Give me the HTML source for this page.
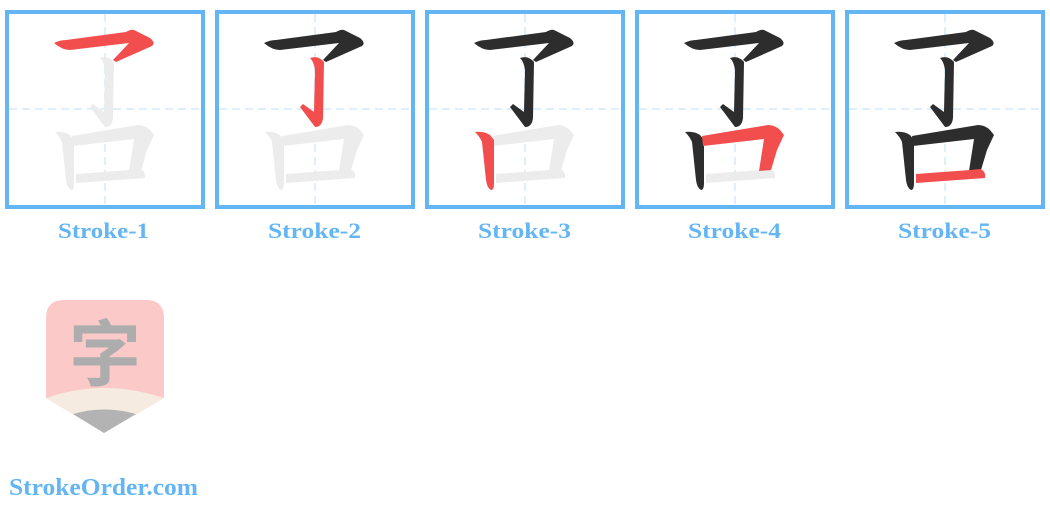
<!DOCTYPE html>
<html><head><meta charset="utf-8"><style>
body{margin:0;background:#fff;width:1050px;height:514px;overflow:hidden}
svg{display:block}
</style></head><body>
<svg width="1050" height="514" viewBox="0 0 1050 514" xmlns="http://www.w3.org/2000/svg">
<defs>
<g id="grid">
<rect x="7" y="12" width="196" height="195" fill="#fff" stroke="#64b5f4" stroke-width="4"/>
<line x1="105" y1="14" x2="105" y2="205" stroke="#dff0fc" stroke-width="2" stroke-dasharray="8,5"/>
<line x1="9" y1="109" x2="201" y2="109" stroke="#dff0fc" stroke-width="2" stroke-dasharray="8,5"/>
</g>
<path id="s1" d="M54,43 Q60,40 66,40 L126,32 Q131,29 134,30 L150,38 Q156,43 152,46 L116,62 L113,60 L129,43 L70,50 Q62,50 54,43 Z"/>
<path id="s2" d="M100,58 Q108,55 114,62 L113,118 Q112,127 105,127 L90,107 L93,104 L104,112 L105,70 Q104,62 100,58 Z"/>
<path id="s3" d="M55,132 Q64,131 70,135 L74,140 L74,183 Q74,190 71,190 Q67,188 66,180 L62,142 Q60,137 55,132 Z"/>
<path id="s4" d="M72,136 L138,125 Q145,125 150,130 L154,135 L147,150 L141,170 L129,171 L134,139 L73,146 Z"/>
<path id="s5" d="M76,174 L130,170 L140,169 Q146,171 145,178 L76,183 Z"/>
</defs>
<g font-family="'Liberation Serif',serif" font-weight="bold" font-size="22" fill="#64b5f4">
<text x="58" y="238" textLength="91" lengthAdjust="spacingAndGlyphs">Stroke-1</text>
<text x="268" y="238" textLength="93" lengthAdjust="spacingAndGlyphs">Stroke-2</text>
<text x="478" y="238" textLength="93" lengthAdjust="spacingAndGlyphs">Stroke-3</text>
<text x="688" y="238" textLength="93" lengthAdjust="spacingAndGlyphs">Stroke-4</text>
<text x="898" y="238" textLength="93" lengthAdjust="spacingAndGlyphs">Stroke-5</text>
</g>
<g transform="translate(0,0)"><use href="#grid"/>
<g fill="#ececec"><use href="#s2"/><use href="#s3"/><use href="#s4"/><use href="#s5"/></g>
<use href="#s1" fill="#f24e4e"/></g>
<g transform="translate(210,0)"><use href="#grid"/>
<g fill="#ececec"><use href="#s3"/><use href="#s4"/><use href="#s5"/></g>
<use href="#s1" fill="#2d2d2d"/><use href="#s2" fill="#f24e4e"/></g>
<g transform="translate(420,0)"><use href="#grid"/>
<g fill="#ececec"><use href="#s4"/><use href="#s5"/></g>
<g fill="#2d2d2d"><use href="#s1"/><use href="#s2"/></g><use href="#s3" fill="#f24e4e"/></g>
<g transform="translate(630,0)"><use href="#grid"/>
<use href="#s5" fill="#ececec"/>
<g fill="#2d2d2d"><use href="#s1"/><use href="#s2"/><use href="#s3"/></g><use href="#s4" fill="#f24e4e"/></g>
<g transform="translate(840,0)"><use href="#grid"/>
<g fill="#2d2d2d"><use href="#s1"/><use href="#s2"/><use href="#s3"/><use href="#s4"/></g><use href="#s5" fill="#f24e4e"/></g>
<!-- logo -->
<path d="M46,318 Q46,300 64,300 L146,300 Q164,300 164,318 L164,398 L104,433 L46,398 Z" fill="#fcc9c9"/>
<path d="M46,398 Q104,378 164,398 L104,433 Z" fill="#f5ebe0"/>
<path d="M73,414 Q104,405 136,414 L104,433 Z" fill="#b3b3b3"/>
<text x="105" y="380" font-family="'Noto Sans CJK SC',sans-serif" font-weight="bold" font-size="72" fill="#adadad" text-anchor="middle">字</text>
<text x="9" y="495" font-family="'Liberation Serif',serif" font-weight="bold" font-size="24" fill="#64b5f4" textLength="189" lengthAdjust="spacingAndGlyphs">StrokeOrder.com</text>
</svg>
</body></html>
